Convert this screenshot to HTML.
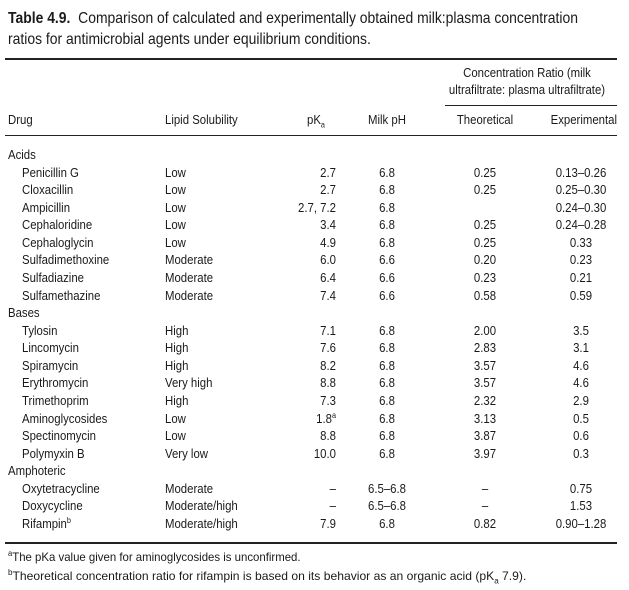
<!DOCTYPE html>
<html><head><meta charset="utf-8"><style>
body{margin:0;width:629px;height:590px;background:#fff;position:relative;overflow:hidden;font-family:"Liberation Sans",sans-serif;color:#1a1a1a;font-size:12.5px}
.t{position:absolute;white-space:nowrap;line-height:1;transform:scaleX(0.91);transform-origin:left}
.title{font-size:16px;left:8px;transform:scaleX(0.87)}
.ln{position:absolute;background:#222}
.r{text-align:right;transform-origin:right}.c{text-align:center;transform-origin:center}
sub,sup{font-size:8px;line-height:0}
</style></head><body>
<div class="t title" style="top:11px"><b>Table 4.9.</b>&nbsp; Comparison of calculated and experimentally obtained milk:plasma concentration</div>
<div class="t title" style="top:32px">ratios for antimicrobial agents under equilibrium conditions.</div>
<div class="ln" style="left:5px;width:612px;top:58px;height:2px"></div>
<div class="t c" style="left:431px;width:192px;top:67px">Concentration Ratio (milk</div>
<div class="t c" style="left:431px;width:192px;top:84px">ultrafiltrate: plasma ultrafiltrate)</div>
<div class="ln" style="left:445px;width:172px;top:105px;height:1px"></div>
<div class="t" style="left:8px;top:114px">Drug</div>
<div class="t" style="left:165px;top:114px">Lipid Solubility</div>
<div class="t" style="left:307px;top:114px">pK<sub>a</sub></div>
<div class="t c" style="left:355px;width:64px;top:114px">Milk pH</div>
<div class="t c" style="left:445px;width:80px;top:114px">Theoretical</div>
<div class="t r" style="left:530px;width:87px;top:114px">Experimental</div>
<div class="ln" style="left:5px;width:612px;top:135px;height:1px"></div>
<div id="rows"></div>
<div class="ln" style="left:5px;width:612px;top:542px;height:2px"></div>
<div class="t" style="left:8px;top:551px;font-size:12px;transform:scaleX(0.95)"><sup>a</sup>The pKa value given for aminoglycosides is unconfirmed.</div>
<div class="t" style="left:8px;top:570px;font-size:12px;transform:scaleX(1.01)"><sup>b</sup>Theoretical concentration ratio for rifampin is based on its behavior as an organic acid (pK<sub>a</sub> 7.9).</div>
<script>
var d=[["Acids"],["Penicillin G","Low","2.7","6.8","0.25","0.13–0.26"],["Cloxacillin","Low","2.7","6.8","0.25","0.25–0.30"],["Ampicillin","Low","2.7, 7.2","6.8","","0.24–0.30"],["Cephaloridine","Low","3.4","6.8","0.25","0.24–0.28"],["Cephaloglycin","Low","4.9","6.8","0.25","0.33"],["Sulfadimethoxine","Moderate","6.0","6.6","0.20","0.23"],["Sulfadiazine","Moderate","6.4","6.6","0.23","0.21"],["Sulfamethazine","Moderate","7.4","6.6","0.58","0.59"],["Bases"],["Tylosin","High","7.1","6.8","2.00","3.5"],["Lincomycin","High","7.6","6.8","2.83","3.1"],["Spiramycin","High","8.2","6.8","3.57","4.6"],["Erythromycin","Very high","8.8","6.8","3.57","4.6"],["Trimethoprim","High","7.3","6.8","2.32","2.9"],["Aminoglycosides","Low","1.8<sup>a</sup>","6.8","3.13","0.5"],["Spectinomycin","Low","8.8","6.8","3.87","0.6"],["Polymyxin B","Very low","10.0","6.8","3.97","0.3"],["Amphoteric"],["Oxytetracycline","Moderate","–","6.5–6.8","–","0.75"],["Doxycycline","Moderate/high","–","6.5–6.8","–","1.53"],["Rifampin<sup>b</sup>","Moderate/high","7.9","6.8","0.82","0.90–1.28"]];
var h="";d.forEach(function(r,i){var y=149+i*17.57;
if(r.length==1){h+='<div class="t" style="left:8px;top:'+y+'px">'+r[0]+'</div>';return;}
h+='<div class="t" style="left:22px;top:'+y+'px">'+r[0]+'</div><div class="t" style="left:165px;top:'+y+'px">'+r[1]+'</div><div class="t r" style="left:260px;width:76px;top:'+y+'px">'+r[2]+'</div><div class="t c" style="left:355px;width:64px;top:'+y+'px">'+r[3]+'</div><div class="t c" style="left:445px;width:80px;top:'+y+'px">'+r[4]+'</div><div class="t c" style="left:540px;width:82px;top:'+y+'px">'+r[5]+'</div>';});
document.getElementById("rows").innerHTML=h;
</script>
</body></html>
